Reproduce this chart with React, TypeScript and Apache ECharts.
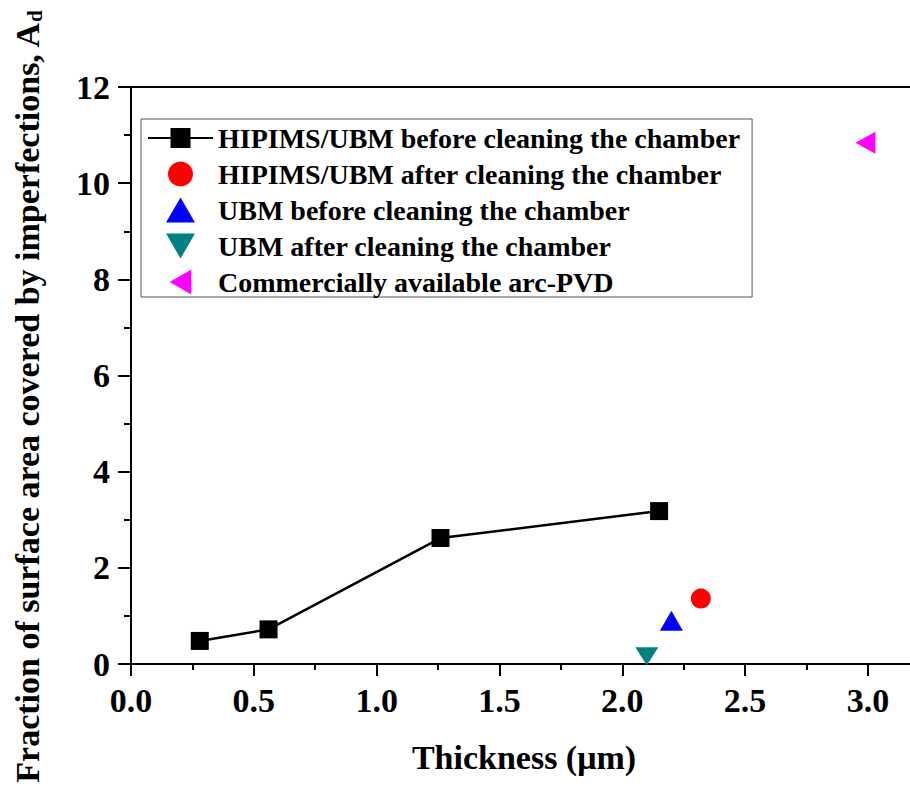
import React, { useEffect, useRef } from "react";
import * as echarts from "echarts";

const seriesNames = [
  "HIPIMS/UBM before cleaning the chamber",
  "HIPIMS/UBM after cleaning the chamber",
  "UBM before cleaning the chamber",
  "UBM after cleaning the chamber",
  "Commercially available arc-PVD",
];
const hipimsBeforeX = [0.28, 0.56, 1.26, 2.15];
const hipimsBeforeY = [0.48, 0.72, 2.62, 3.18];
const hipimsAfter = [[2.32, 1.36]];
const ubmBefore = [[2.2, 0.9]];
const ubmAfter = [[2.1, 0.16]];
const arcPvd = [[2.99, 10.84]];
const xTicks = [0, 0.5, 1.0, 1.5, 2.0, 2.5, 3.0];
const yTicks = [0, 2, 4, 6, 8, 10, 12];
const xTitle = "Thickness (\u03bcm)";
const yTitleMain = "Fraction of surface area covered by imperfections, A";
const yTitleSub = "d";

const FONT = "'Liberation Serif', 'Times New Roman', serif";

export default function App() {
  const ref = useRef<HTMLDivElement>(null);
  useEffect(() => {
    document.body.style.margin = "0";
    document.documentElement.style.overflow = "hidden";
    const chart = echarts.init(ref.current!, null, { renderer: "svg" });
    const axisLabelStyle = {
      fontFamily: FONT,
      fontWeight: "bold" as const,
      fontSize: 34,
      color: "#000",
    };
    chart.setOption({
      animation: false,
      backgroundColor: "#fff",
      grid: { left: 131, top: 87, width: 786, height: 577, outerBoundsMode: "none" },
      legend: {
        orient: "vertical",
        left: 141,
        top: 119,
        padding: [5, 12, 1, 6],
        itemWidth: 65,
        itemHeight: 25,
        itemGap: 8,
        symbolKeepAspect: true,
        borderColor: "#555",
        borderWidth: 1,
        backgroundColor: "#fff",
        textStyle: {
          fontFamily: FONT,
          fontWeight: "bold",
          fontSize: 28,
          color: "#000",
        },
        data: [
          { name: seriesNames[0] },
          { name: seriesNames[1] },
          { name: seriesNames[2], icon: "path://M11,0L22,19L0,19Z" },
          { name: seriesNames[3], icon: "path://M0,0L22,0L11,19Z" },
          { name: seriesNames[4], icon: "path://M0,11L19,0L19,22Z" },
        ],
      },
      graphic: [
        {
          type: "text",
          x: 27,
          y: 397,
          rotation: Math.PI / 2,
          style: {
            text: `{a|${yTitleMain}}{b|${yTitleSub}}`,
            align: "center",
            verticalAlign: "middle",
            rich: {
              a: { ...axisLabelStyle, fontSize: 34 },
              b: { ...axisLabelStyle, fontSize: 21, padding: [15, 0, 0, 0] },
            },
          },
        },
      ],
      xAxis: [
        {
          type: "value",
          min: 0,
          max: 3.2,
          interval: 0.5,
          name: xTitle,
          nameLocation: "middle",
          nameGap: 76,
          nameTextStyle: { ...axisLabelStyle, fontSize: 34 },
          axisLine: { lineStyle: { color: "#000", width: 2 } },
          axisTick: { inside: false, length: 12, lineStyle: { width: 2, color: "#000" } },
          minorTick: { show: true, splitNumber: 2, length: 6, lineStyle: { width: 2, color: "#000" } },
          splitLine: { show: false },
          axisLabel: {
            ...axisLabelStyle,
            margin: 19,
            customValues: xTicks,
            formatter: (v: number) => v.toFixed(1),
          },
        },
        {
          type: "value",
          position: "top",
          min: 0,
          max: 3.2,
          axisLine: { show: true, onZero: false, lineStyle: { color: "#000", width: 2 } },
          axisTick: { show: false },
          axisLabel: { show: false },
          splitLine: { show: false },
        },
      ],
      yAxis: {
        type: "value",
        min: 0,
        max: 12,
        interval: 2,
        axisLine: { show: true, lineStyle: { color: "#000", width: 2 } },
        axisTick: { inside: false, length: 13, lineStyle: { width: 2, color: "#000" } },
        minorTick: { show: true, splitNumber: 2, length: 7, lineStyle: { width: 2, color: "#000" } },
        splitLine: { show: false },
        axisLabel: { ...axisLabelStyle, margin: 21, customValues: yTicks },
      },
      series: [
        {
          name: seriesNames[0],
          type: "line",
          data: hipimsBeforeX.map((x, i) => [x, hipimsBeforeY[i]]),
          symbol: "rect",
          symbolSize: 18,
          lineStyle: { color: "#000", width: 2.5 },
          itemStyle: { color: "#000" },
        },
        {
          name: seriesNames[1],
          type: "scatter",
          data: hipimsAfter,
          symbol: "circle",
          symbolSize: 20,
          itemStyle: { color: "#ff0000", opacity: 1 },
        },
        {
          name: seriesNames[2],
          type: "scatter",
          data: ubmBefore,
          symbol: "triangle",
          symbolSize: [23, 20],
          itemStyle: { color: "#0000ff", opacity: 1 },
        },
        {
          name: seriesNames[3],
          type: "scatter",
          data: ubmAfter,
          symbol: "triangle",
          symbolRotate: 180,
          symbolSize: [23, 18],
          itemStyle: { color: "#008080", opacity: 1 },
        },
        {
          name: seriesNames[4],
          type: "scatter",
          data: arcPvd,
          symbol: "triangle",
          symbolRotate: 90,
          symbolSize: [22, 20],
          itemStyle: { color: "#ff00ff", opacity: 1 },
        },
      ],
    });
    return () => chart.dispose();
  }, []);
  return (
    <div style={{ width: 910, height: 787, overflow: "hidden", position: "relative" }}>
      <div ref={ref} style={{ width: 930, height: 787 }} />
    </div>
  );
}
